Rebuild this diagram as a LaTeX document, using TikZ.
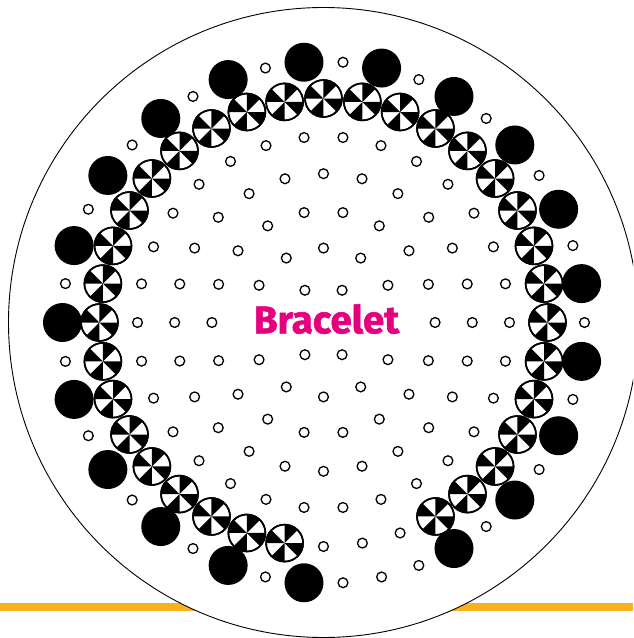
\documentclass[tikz,border=0pt]{standalone}
\usepackage{fontspec}
\newfontfamily\labelfont{Fira Sans}[BoldFeatures={FakeBold=1.5}]
\usepackage{tikz}
\definecolor{Pink}{HTML}{E6007E}
\definecolor{Amber}{HTML}{FBB11C}

\begin{document}
\begin{tikzpicture}[x=1pt,y=1pt,
    peg/.style={draw=black,fill=white,line width=1.3pt},
    bead/.style={draw=black,line width=1.6pt}]
  \useasboundingbox (-323.5,-315.5) rectangle (309.5,322.5);
  \clip (-323.5,-315.5) rectangle (309.5,322.5);

  % base line and board
  \draw[Amber,line width=7.5pt] (-323.5,-284.5) -- (309.5,-284.5);
  \draw[fill=white,line width=0.9pt] (0,0) circle[radius=315];

  % inner pegs, 6n on ring n
  \foreach \n in {1,...,5}{
    \pgfmathtruncatemacro\last{6*\n-1}
    \foreach \k in {0,...,\last}
      \draw[peg] ({\k*60/\n}:{\n*37.2}) circle[radius=4.9];
  }

  % pinwheel beads, gap at the bottom
  \foreach \a in {-60,-50,...,260}{
    \draw[bead,fill=white] (\a:224) circle[radius=18.5];
    \foreach \s in {45,135,225,315}
      \fill[shift={(\a:224)}] (0,0) -- (\s:18.5)
        arc[start angle=\s,end angle=\s+45,radius=18.5] -- cycle;
    \draw[bead] (\a:224) circle[radius=18.5];
  }
  \foreach \a in {270,280,290}
    \draw[peg] (\a:224) circle[radius=4.9];

  % outer ring: big beads and pegs
  \foreach \k in {1,3,...,31,35,37,39,41}
    \fill ({\k*360/42}:261) circle[radius=19.5];
  \foreach \k in {0,2,...,40,33}
    \draw[peg] ({\k*360/42}:261) circle[radius=4.9];

  % title
  \node[fill=white,inner xsep=16pt,inner ysep=2pt,text=Pink,
    font=\labelfont\bfseries\fontsize{38.5}{38.5}\selectfont] (title) at (3,3.5) {Bracelet};
\end{tikzpicture}
\end{document}
